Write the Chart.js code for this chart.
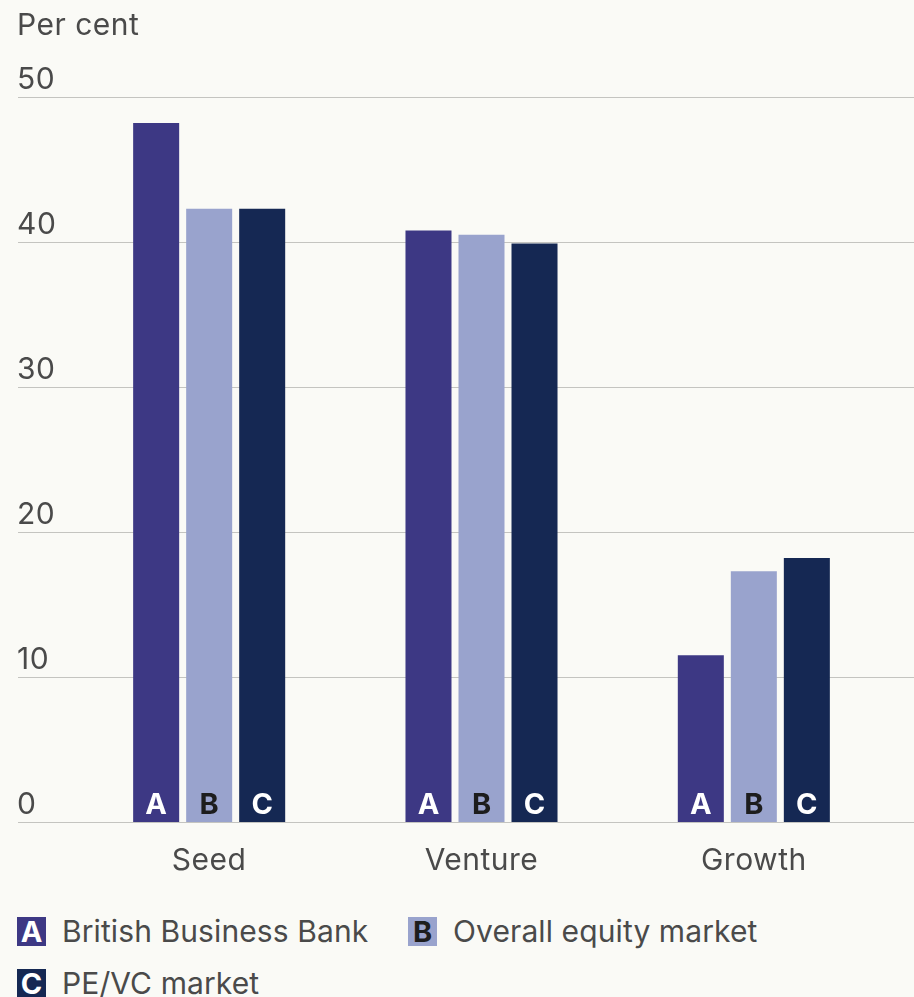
<!DOCTYPE html>
<html>
<head>
<meta charset="utf-8">
<script src="https://cdn.jsdelivr.net/npm/chart.js@4.4.1/dist/chart.umd.min.js"></script>
<style>
  html, body { margin: 0; padding: 0; background: #fafaf6; }
  #wrap { position: relative; width: 914px; height: 997px; overflow: hidden; }
  #chart-box { position: absolute; left: 0; top: 0; width: 914px; height: 900px; }
  .legend { position: absolute; font-family: Inter, "Noto Sans", sans-serif; font-size: 30px; color: #4a4a4a; letter-spacing: 0.1px; }
  .legend-item { position: absolute; display: flex; align-items: center; white-space: nowrap; }
  .legend-key { width: 29px; height: 29px; display: flex; align-items: center; justify-content: center;
                font-weight: 700; font-size: 29px; line-height: 29px; margin-right: 16px; letter-spacing: 0; }
</style>
</head>
<body>
<div id="wrap">
  <div id="chart-box"><canvas id="grafico"></canvas></div>
  <div class="legend" id="leyenda"></div>
</div>
<script>
// Datos
const categorias = ['Seed', 'Venture', 'Growth'];
const series = ['British Business Bank', 'Overall equity market', 'PE/VC market'];
const letras = ['A', 'B', 'C'];
const valoresA = [48.2, 40.8, 11.5];
const valoresB = [42.3, 40.5, 17.3];
const valoresC = [42.3, 39.9, 18.2];
const ticksY = [0, 10, 20, 30, 40, 50];
const tituloEje = 'Per cent';

const colores = ['#3d3884', '#99a3cd', '#152853'];
const coloresLetra = ['#ffffff', '#1d1d1d', '#ffffff'];
const colorTexto = '#4a4a4a';
const fuente = 'Inter, "Noto Sans", sans-serif';

const valores = [valoresA, valoresB, valoresC];

// Espaciado de letras para todo el texto del canvas
const espaciadoPlugin = {
    id: 'espaciado',
    beforeDraw(chart) {
        chart.ctx.letterSpacing = '0.5px';
    }
};

// Rejilla y etiquetas del eje Y, por encima de cada línea
const rejillaPlugin = {
    id: 'rejilla',
    beforeDatasetsDraw(chart) {
        const ctx = chart.ctx;
        const y = chart.scales.y;
        ctx.save();
        ctx.font = '400 30px ' + fuente;
        ctx.fillStyle = colorTexto;
        ctx.textAlign = 'left';
        ctx.textBaseline = 'alphabetic';
        ticksY.forEach(t => {
            const py = Math.round(y.getPixelForValue(t)) + 0.5;
            ctx.strokeStyle = '#c4c4c0';
            ctx.lineWidth = 1;
            ctx.beginPath();
            ctx.moveTo(18, py);
            ctx.lineTo(chart.width, py);
            ctx.stroke();
            ctx.fillText(String(t), 17, py - 9);
        });
        ctx.fillText(tituloEje, 17, 35);
        ctx.restore();
    }
};

// Letra de la serie al pie de cada barra
const letrasPlugin = {
    id: 'letras',
    afterDatasetsDraw(chart) {
        const ctx = chart.ctx;
        ctx.save();
        ctx.letterSpacing = '0px';
        ctx.font = '700 29px ' + fuente;
        ctx.textAlign = 'center';
        ctx.textBaseline = 'alphabetic';
        chart.data.datasets.forEach((ds, i) => {
            chart.getDatasetMeta(i).data.forEach(bar => {
                ctx.fillStyle = coloresLetra[i];
                ctx.fillText(letras[i], bar.x, bar.base - 8);
            });
        });
        ctx.restore();
    }
};

const ctx = document.getElementById('grafico').getContext('2d');
new Chart(ctx, {
    type: 'bar',
    data: {
        labels: categorias,
        datasets: series.map((nombre, i) => ({
            label: nombre,
            data: valores[i],
            backgroundColor: colores[i],
            borderWidth: 0,
            categoryPercentage: 0.584,
            barPercentage: 0.868
        }))
    },
    options: {
        responsive: true,
        maintainAspectRatio: false,
        animation: false,
        layout: { padding: { top: 97, left: 73, right: 24, bottom: 8 } },
        plugins: { legend: { display: false }, tooltip: { enabled: false } },
        scales: {
            y: { display: false, min: 0, max: 50 },
            x: {
                grid: { display: false },
                border: { display: false },
                ticks: { color: colorTexto, font: { family: fuente, size: 30 }, padding: 13 },
                afterFit(axis) { axis.height = 70; }
            }
        }
    },
    plugins: [espaciadoPlugin, rejillaPlugin, letrasPlugin]
});

// Leyenda en HTML
const leyenda = document.getElementById('leyenda');
const posiciones = [[17, 913], [408, 913], [17, 965]];
series.forEach((nombre, i) => {
    const item = document.createElement('div');
    item.className = 'legend-item';
    item.style.left = posiciones[i][0] + 'px';
    item.style.top = posiciones[i][1] + 'px';
    const clave = document.createElement('span');
    clave.className = 'legend-key';
    clave.style.background = colores[i];
    clave.style.color = coloresLetra[i];
    clave.textContent = letras[i];
    const texto = document.createElement('span');
    texto.textContent = nombre;
    item.appendChild(clave);
    item.appendChild(texto);
    leyenda.appendChild(item);
});
</script>
</body>
</html>
